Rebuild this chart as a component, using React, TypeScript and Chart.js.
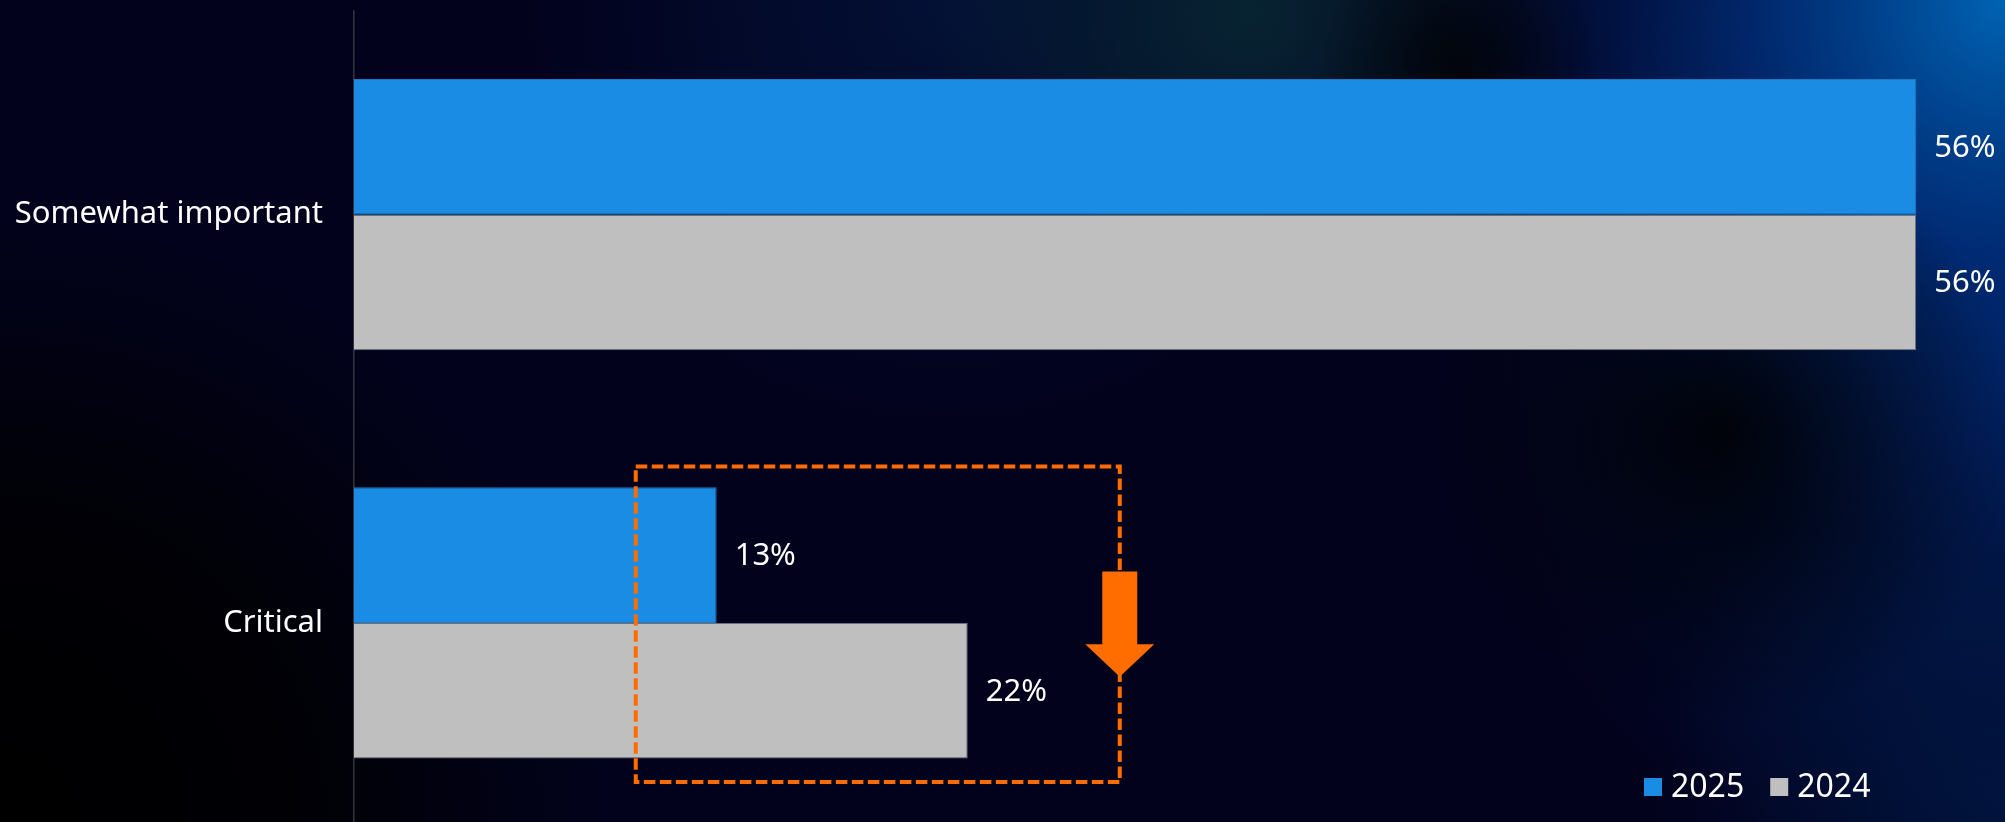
import React, { useEffect, useRef } from 'react';
import { Chart, registerables } from 'chart.js';

Chart.register(...registerables);

// ---- data ----
const categories = ['Somewhat important', 'Critical'];
const seriesLabels = ['2025', '2024'];
const values2025 = [56, 13];
const values2024 = [56, 22];
const seriesColors = ['#1a8ce4', '#bfbfbf'];
const seriesBorders = ['#1f78c4', '#6e6e78'];
const xMax = 58;
// highlighted change (dashed box) on the "Critical" category, in value units
const highlightCategory = 1;
const highlightFrom = 10.1;
const highlightTo = 27.45;

const FONT = "'Noto Sans', sans-serif";
const ORANGE = '#ff6d00';

const backgroundPlugin = {
  id: 'bgPaint',
  beforeDraw(chart: any) {
    const { ctx, width, height } = chart;
    ctx.save();
    ctx.fillStyle = '#02021d';
    ctx.fillRect(0, 0, width, height);
    const blob = (x: number, y: number, r: number, stops: [number, string][]) => {
      const g = ctx.createRadialGradient(x, y, 0, x, y, r);
      stops.forEach(([o, c]) => g.addColorStop(o, c));
      ctx.fillStyle = g;
      ctx.fillRect(0, 0, width, height);
    };
    blob(950, 0, 420, [[0, 'rgba(3,20,60,0.8)'], [1, 'rgba(3,20,60,0)']]);
    blob(1250, 10, 330, [[0, 'rgba(8,40,52,0.85)'], [1, 'rgba(8,40,52,0)']]);
    blob(2005, 380, 520, [[0, 'rgba(0,35,100,0.85)'], [1, 'rgba(0,35,100,0)']]);
    blob(2005, 800, 350, [[0, 'rgba(0,25,70,0.7)'], [1, 'rgba(0,25,70,0)']]);
    blob(2005, 0, 560, [[0, 'rgba(0,100,180,1)'], [0.45, 'rgba(0,50,130,0.75)'], [1, 'rgba(0,30,100,0)']]);
    blob(1460, 65, 140, [[0, 'rgba(0,0,0,0.7)'], [1, 'rgba(0,0,0,0)']]);
    blob(1720, 430, 300, [[0, 'rgba(0,0,0,0.85)'], [1, 'rgba(0,0,0,0)']]);
    blob(0, 822, 620, [[0, 'rgba(0,0,0,1)'], [0.5, 'rgba(0,0,0,0.8)'], [1, 'rgba(0,0,0,0)']]);
    ctx.restore();
  },
};

const labelsPlugin = {
  id: 'valueLabels',
  afterDatasetsDraw(chart: any) {
    const { ctx } = chart;
    ctx.save();
    ctx.font = `31px ${FONT}`;
    ctx.fillStyle = '#ffffff';
    ctx.textAlign = 'left';
    ctx.textBaseline = 'middle';
    chart.data.datasets.forEach((ds: any, di: number) => {
      const meta = chart.getDatasetMeta(di);
      meta.data.forEach((bar: any, i: number) => {
        ctx.fillText(`${ds.data[i]}%`, bar.x + 18, bar.y + 1);
      });
    });
    ctx.restore();
  },
};

const highlightPlugin = {
  id: 'highlight',
  afterDatasetsDraw(chart: any) {
    const { ctx } = chart;
    const xs = chart.scales.x;
    const ys = chart.scales.y;
    const center = ys.getPixelForValue(highlightCategory);
    const band = Math.abs(ys.getPixelForValue(1) - ys.getPixelForValue(0));
    const left = xs.getPixelForValue(highlightFrom);
    const right = xs.getPixelForValue(highlightTo);
    const top = center - band * 0.383;
    const bottom = center + band * 0.39;
    ctx.save();
    ctx.strokeStyle = ORANGE;
    ctx.lineWidth = 4;
    ctx.setLineDash([11.5, 4.5]);
    ctx.lineJoin = 'miter';
    ctx.strokeRect(left, top, right - left, bottom - top);
    ctx.setLineDash([]);
    const cx = right;
    const shaftTop = center - band * 0.126;
    const shaftBottom = center + band * 0.0526;
    const tip = center + band * 0.132;
    ctx.fillStyle = ORANGE;
    ctx.beginPath();
    ctx.moveTo(cx - 17.5, shaftTop);
    ctx.lineTo(cx + 17.5, shaftTop);
    ctx.lineTo(cx + 17.5, shaftBottom);
    ctx.lineTo(cx + 34.5, shaftBottom);
    ctx.lineTo(cx, tip);
    ctx.lineTo(cx - 34.5, shaftBottom);
    ctx.lineTo(cx - 17.5, shaftBottom);
    ctx.closePath();
    ctx.fill();
    ctx.restore();
  },
};

const legendPlugin = {
  id: 'cornerLegend',
  afterDraw(chart: any) {
    const { ctx } = chart;
    ctx.save();
    ctx.font = `32px ${FONT}`;
    ctx.textBaseline = 'middle';
    ctx.textAlign = 'left';
    const yMid = 787;
    let x = 1644;
    chart.data.datasets.forEach((ds: any) => {
      ctx.fillStyle = ds.backgroundColor;
      ctx.fillRect(x, yMid - 9, 18, 18);
      x += 27;
      ctx.fillStyle = '#ffffff';
      ctx.fillText(ds.label, x, yMid + 1);
      x += ctx.measureText(ds.label).width + 26;
    });
    ctx.restore();
  },
};

export default function App() {
  const ref = useRef<HTMLCanvasElement | null>(null);
  useEffect(() => {
    document.body.style.margin = '0';
    document.body.style.background = '#02021d';
    const canvas = ref.current;
    if (!canvas) return;
    const chart = new Chart(canvas, {
      type: 'bar',
      data: {
        labels: categories,
        datasets: [
          {
            label: seriesLabels[0],
            data: values2025,
            backgroundColor: seriesColors[0],
            borderColor: seriesBorders[0],
            borderWidth: 1,
            categoryPercentage: 0.665,
            barPercentage: 1,
          },
          {
            label: seriesLabels[1],
            data: values2024,
            backgroundColor: seriesColors[1],
            borderColor: seriesBorders[1],
            borderWidth: 1,
            categoryPercentage: 0.665,
            barPercentage: 1,
          },
        ],
      },
      options: {
        indexAxis: 'y',
        responsive: false,
        animation: false,
        maintainAspectRatio: false,
        layout: { padding: { top: 10.5, right: 33, bottom: 0, left: 0 } },
        plugins: {
          legend: { display: false },
          tooltip: { enabled: false },
        },
        scales: {
          x: { display: false, min: 0, max: xMax },
          y: {
            grid: { display: false, drawTicks: false },
            border: { display: true, color: '#34343f', width: 1.5 },
            ticks: {
              color: '#ffffff',
              padding: 31,
              font: { family: FONT, size: 31 },
            },
            afterFit(scale: any) {
              scale.width = 354;
              scale.paddingTop = 0;
              scale.paddingBottom = 0;
            },
          },
        },
      },
      plugins: [backgroundPlugin, highlightPlugin, labelsPlugin, legendPlugin],
    } as any);
    return () => chart.destroy();
  }, []);
  return (
    <div style={{ width: 2005, height: 822, overflow: 'hidden' }}>
      <canvas ref={ref} width={2005} height={827} style={{ display: 'block' }} />
    </div>
  );
}
